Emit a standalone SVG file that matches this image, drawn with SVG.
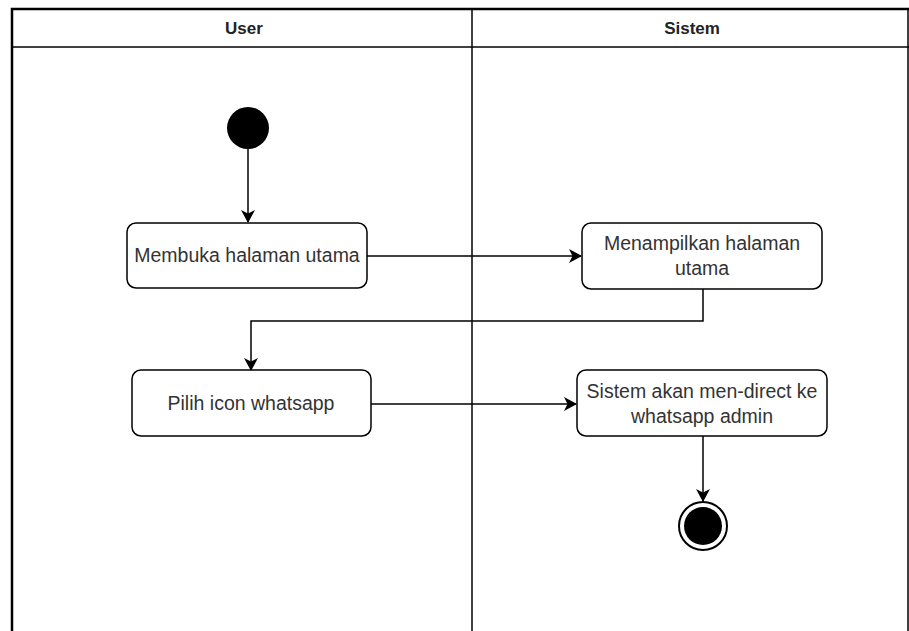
<svg xmlns="http://www.w3.org/2000/svg" width="909" height="631" viewBox="0 0 909 631">
<defs>
<style>
.lane{fill:none;stroke:#000;stroke-width:2.5}
.div{fill:none;stroke:#000;stroke-width:1.5}
.hdr{font-family:"Liberation Sans",Arial,sans-serif;font-size:17px;font-weight:bold;fill:#222;text-anchor:middle}
.box{fill:#fff;stroke:#000;stroke-width:1.5}
.lbl{font-family:"Liberation Sans",Arial,sans-serif;font-size:19.5px;fill:#333;text-anchor:middle}
.edge{fill:none;stroke:#000;stroke-width:1.5}
</style>
<marker id="arr" markerWidth="14" markerHeight="14" refX="12" refY="7" orient="auto" markerUnits="userSpaceOnUse">
<path d="M0,0 L13,7 L0,14 L3.5,7 Z" fill="#000"/>
</marker>
</defs>
<rect x="0" y="0" width="909" height="631" fill="#fff"/>
<g id="pool">
<path class="lane" d="M12,640 L12,9 L920,9"/>
<line class="div" x1="12" y1="47" x2="909" y2="47"/>
<line class="div" x1="472" y1="9" x2="472" y2="640"/>
<line class="div" x1="908" y1="9" x2="908" y2="640" stroke="#bbb"/>
<text class="hdr" x="244" y="34">User</text>
<text class="hdr" x="692" y="34">Sistem</text>
</g>
<g id="connectors">
<line class="edge" x1="248" y1="149" x2="248" y2="222" marker-end="url(#arr)"/>
<line class="edge" x1="367" y1="256" x2="581" y2="256" marker-end="url(#arr)"/>
<path class="edge" d="M703,289 L703,321 L251,321 L251,370" marker-end="url(#arr)"/>
<line class="edge" x1="371" y1="404" x2="576" y2="404" marker-end="url(#arr)"/>
<line class="edge" x1="703" y1="436" x2="703" y2="501" marker-end="url(#arr)"/>
</g>
<g id="start">
<circle cx="248" cy="128" r="21" fill="#000"/>
</g>
<g id="n1">
<rect class="box" x="127" y="223" width="240" height="65" rx="9"/>
<text class="lbl" x="247" y="262">Membuka halaman utama</text>
</g>
<g id="n2">
<rect class="box" x="582" y="223" width="240" height="66" rx="9"/>
<text class="lbl" x="702" y="250">Menampilkan halaman</text>
<text class="lbl" x="702" y="275">utama</text>
</g>
<g id="n3">
<rect class="box" x="132" y="370" width="239" height="66" rx="9"/>
<text class="lbl" x="251" y="410">Pilih icon whatsapp</text>
</g>
<g id="n4">
<rect class="box" x="577" y="370" width="250" height="66" rx="9"/>
<text class="lbl" x="702" y="398">Sistem akan men-direct ke</text>
<text class="lbl" x="702" y="423">whatsapp admin</text>
</g>
<g id="end">
<circle cx="703" cy="526" r="24" fill="#fff" stroke="#000" stroke-width="2"/>
<circle cx="703" cy="526" r="19" fill="#000"/>
</g>
</svg>
